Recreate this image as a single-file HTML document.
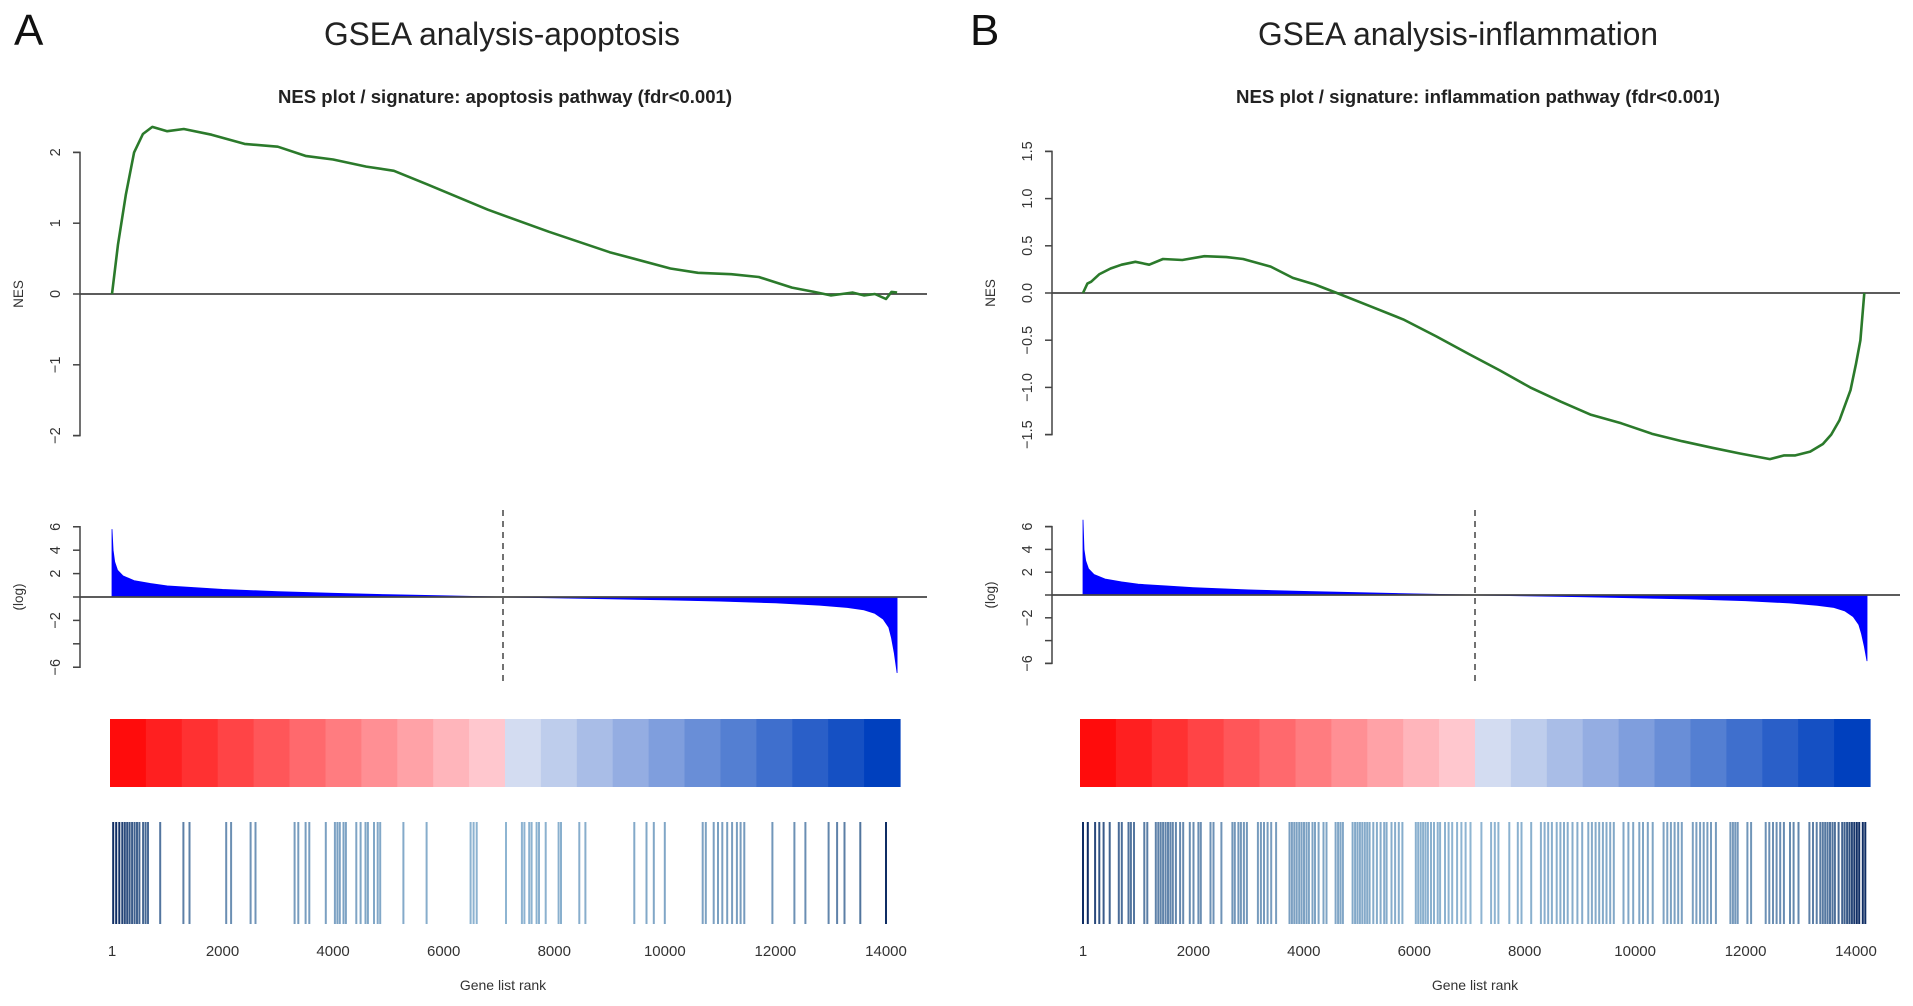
<!DOCTYPE html>
<html><head><meta charset="utf-8"><style>
html,body{margin:0;padding:0;background:#fff;width:1913px;height:1006px;overflow:hidden}
svg{display:block;font-family:"Liberation Sans",Arial,sans-serif}
</style></head><body>
<svg id="fig" width="1913" height="1006" viewBox="0 0 1913 1006" xmlns="http://www.w3.org/2000/svg">
<text x="14" y="45" font-size="44" fill="#111">A</text>
<text x="970" y="45" font-size="44" fill="#111">B</text>
<text x="502" y="45" font-size="32" text-anchor="middle" fill="#222" textLength="356" lengthAdjust="spacingAndGlyphs">GSEA analysis-apoptosis</text>
<text x="1458" y="45" font-size="32" text-anchor="middle" fill="#222" textLength="400" lengthAdjust="spacingAndGlyphs">GSEA analysis-inflammation</text>
<text x="505" y="103" font-size="18" font-weight="bold" text-anchor="middle" fill="#222" textLength="454" lengthAdjust="spacingAndGlyphs">NES plot / signature: apoptosis pathway (fdr&lt;0.001)</text>
<text x="1478" y="103" font-size="18" font-weight="bold" text-anchor="middle" fill="#222" textLength="484" lengthAdjust="spacingAndGlyphs">NES plot / signature: inflammation pathway (fdr&lt;0.001)</text>
</svg>
<script>
// ---------- data ----------
const xTickRanks = [1, 2000, 4000, 6000, 8000, 10000, 12000, 14000];
const xTickLabels = ["1", "2000", "4000", "6000", "8000", "10000", "12000", "14000"];
const nesTicksA = [2, 1, 0, -1, -2];
const nesTickLabelsA = ["2", "1", "0", "\u22121", "\u22122"];
const nesTicksB = [1.5, 1.0, 0.5, 0.0, -0.5, -1.0, -1.5];
const nesTickLabelsB = ["1.5", "1.0", "0.5", "0.0", "\u22120.5", "\u22121.0", "\u22121.5"];
const logTicks = [6, 4, 2, 0, -2, -4, -6];
const logTickLabels = ["6", "4", "2", "", "\u22122", "", "\u22126"];

const nesRanksA = [1, 110, 250, 400, 560, 730, 1000, 1300, 1800, 2400, 3000, 3500, 4000, 4600, 5100, 5700, 6800, 7900, 9000, 10100, 10600, 11200, 11700, 12300, 12700, 13000, 13200, 13400, 13600, 13800, 14000, 14100, 14200];
const nesValuesA = [0, 0.7, 1.4, 2.0, 2.26, 2.36, 2.3, 2.33, 2.25, 2.12, 2.08, 1.95, 1.9, 1.8, 1.74, 1.55, 1.19, 0.88, 0.59, 0.36, 0.3, 0.28, 0.24, 0.09, 0.03, -0.02, 0.0, 0.02, -0.02, 0.0, -0.07, 0.03, 0.02];
const nesRanksB = [1, 80, 150, 300, 500, 700, 950, 1200, 1450, 1800, 2200, 2600, 2900, 3400, 3800, 4200, 4600, 5200, 5800, 6400, 7000, 7550, 8100, 8650, 9200, 9750, 10300, 10850, 11400, 11900, 12440, 12700, 12900, 13170, 13400, 13550, 13700, 13900, 14000, 14080, 14150];
const nesValuesB = [0, 0.1, 0.12, 0.2, 0.26, 0.3, 0.33, 0.3, 0.36, 0.35, 0.39, 0.38, 0.36, 0.28, 0.16, 0.09, 0, -0.14, -0.28, -0.46, -0.65, -0.82, -1.0, -1.15, -1.29, -1.38, -1.49, -1.57, -1.64, -1.7, -1.76, -1.72, -1.72, -1.68, -1.6, -1.5, -1.35, -1.03, -0.75, -0.5, 0];

const metricRanks = [1, 20, 50, 100, 200, 400, 700, 1000, 1500, 2000, 3000, 4000, 5000, 6000, 7050, 8000, 9000, 10000, 11000, 12000, 12800, 13300, 13600, 13800, 13950, 14050, 14100, 14150, 14200];
const metricA = [5.8, 4.0, 3.0, 2.3, 1.8, 1.4, 1.15, 0.95, 0.8, 0.65, 0.45, 0.32, 0.2, 0.1, 0, -0.08, -0.15, -0.25, -0.35, -0.5, -0.7, -0.9, -1.1, -1.4, -1.9, -2.6, -3.5, -4.8, -6.5];
const metricB = [6.6, 4.0, 3.0, 2.3, 1.8, 1.4, 1.15, 0.95, 0.8, 0.65, 0.45, 0.32, 0.2, 0.1, 0, -0.08, -0.15, -0.25, -0.35, -0.5, -0.7, -0.9, -1.1, -1.4, -1.9, -2.6, -3.4, -4.5, -5.8];

const hitsA = [22,77,133,188,232,276,320,365,409,453,497,564,608,652,873,1293,1403,2066,2155,2508,2597,3304,3370,3503,3569,3868,4033,4078,4122,4188,4232,4420,4497,4586,4630,4740,4807,4851,5271,5691,6486,6542,6597,7127,7415,7459,7547,7591,7680,7724,7846,8078,8122,8453,8564,9448,9669,9801,10000,10685,10741,10884,10962,11039,11127,11216,11304,11370,11437,11945,12343,12542,12962,13116,13249,13536,14000];
const hitsB = [1,88,220,297,374,484,649,704,825,869,924,1111,1166,1320,1364,1408,1452,1496,1540,1584,1628,1683,1760,1815,1936,2002,2090,2134,2310,2365,2508,2706,2750,2816,2860,2915,2970,3168,3223,3278,3344,3410,3498,3740,3784,3828,3872,3916,3960,4004,4048,4092,4158,4202,4268,4356,4411,4576,4620,4664,4708,4884,4928,4972,5016,5060,5104,5148,5192,5258,5324,5390,5456,5500,5588,5654,5720,5786,6028,6072,6116,6160,6204,6248,6303,6358,6424,6468,6556,6622,6688,6776,6853,6930,7018,7216,7392,7458,7524,7722,7876,7942,8118,8294,8360,8426,8492,8580,8646,8712,8778,8866,8954,9042,9152,9218,9284,9350,9416,9482,9548,9614,9790,9878,9966,10076,10142,10230,10318,10516,10582,10648,10714,10780,10846,11044,11110,11176,11242,11308,11374,11462,11726,11770,11814,11858,12034,12100,12364,12430,12496,12562,12628,12694,12804,12870,12958,13156,13222,13288,13354,13398,13442,13486,13530,13574,13618,13684,13750,13794,13838,13882,13926,13970,14014,14058,14124,14168];

const colorBarSteps = [-11,-10,-9,-8,-7,-6,-5,-4,-3,-2,-1,1,2,3,4,5,6,7,8,9,10,11];

// ---------- drawing ----------
const NS = "http://www.w3.org/2000/svg";
const svg = document.getElementById("fig");
function mk(tag, attrs, parent) {
  const e = document.createElementNS(NS, tag);
  for (const k in attrs) e.setAttribute(k, attrs[k]);
  (parent || svg).appendChild(e);
  return e;
}
function interp(rs, vs, r) {
  if (r <= rs[0]) return vs[0];
  for (let i = 1; i < rs.length; i++) {
    if (r <= rs[i]) { const t = (r - rs[i-1]) / (rs[i] - rs[i-1]); return vs[i-1] + t * (vs[i] - vs[i-1]); }
  }
  return vs[vs.length - 1];
}

function panel(cfg) {
  const g = mk("g", {});
  
  
  const x = r => cfg.x0 + (r - 1) * cfg.xs;
  const yN = v => cfg.nesZero - v * cfg.nesUnit;
  const yL = v => cfg.logZero - v * cfg.logUnit;

  const ax = mk("path", {d: `M${cfg.axX - 7},${yN(cfg.nesTicks[0])}H${cfg.axX}V${yN(cfg.nesTicks[cfg.nesTicks.length-1])}H${cfg.axX - 7}`, fill: "none", stroke: "#444", "stroke-width": 1.5}, g);
  
  
  cfg.nesTicks.forEach((v, i) => {
    const tk = mk("line", {x1: cfg.axX - 7, x2: cfg.axX, y1: yN(v), y2: yN(v), stroke: "#444", "stroke-width": 1.5}, g);
    
    
    const t = mk("text", {x: 0, y: 0, transform: `translate(${cfg.axX - 20},${yN(v)}) rotate(-90)`, "font-size": 14.5, "text-anchor": "middle", fill: "#333"}, g);
    t.textContent = cfg.nesLabels[i];
    
    
  });
  const nl = mk("text", {transform: `translate(${cfg.axX - 57},${cfg.nesZero}) rotate(-90)`, "font-size": 13.5, "text-anchor": "middle", fill: "#333"}, g);
  nl.textContent = "NES";
  
  
  const z = mk("line", {x1: cfg.axX, x2: cfg.axEnd, y1: cfg.nesZero, y2: cfg.nesZero, stroke: "#444", "stroke-width": 1.8}, g);
  
  
  let d = "";
  cfg.nesRanks.forEach((r, i) => { d += (i ? "L" : "M") + x(r).toFixed(1) + "," + yN(cfg.nesVals[i]).toFixed(1); });
  const c = mk("path", {d, fill: "none", stroke: "#2b7a2b", "stroke-width": 2.6, "stroke-linejoin": "round"}, g);
  
  

  const la = mk("path", {d: `M${cfg.axX - 7},${yL(6)}H${cfg.axX}V${yL(-6)}H${cfg.axX - 7}`, fill: "none", stroke: "#444", "stroke-width": 1.5}, g);
  
  
  logTicks.forEach((v, i) => {
    const tk = mk("line", {x1: cfg.axX - 7, x2: cfg.axX, y1: yL(v), y2: yL(v), stroke: "#444", "stroke-width": 1.5}, g);
    
    
    const t = mk("text", {transform: `translate(${cfg.axX - 20},${yL(v)}) rotate(-90)`, "font-size": 14.5, "text-anchor": "middle", fill: "#333"}, g);
    t.textContent = logTickLabels[i];
    
    
  });
  const ll = mk("text", {transform: `translate(${cfg.axX - 57},${cfg.logZero}) rotate(-90)`, "font-size": 13.5, "text-anchor": "middle", fill: "#333"}, g);
  ll.textContent = "(log)";
  
  
  let p = `M${x(metricRanks[0])},${cfg.logZero}`;
  metricRanks.forEach((r, i) => { p += "L" + x(r).toFixed(1) + "," + yL(cfg.metric[i]).toFixed(1); });
  p += `L${x(metricRanks[metricRanks.length-1])},${cfg.logZero}Z`;
  const area = mk("path", {d: p, fill: "#0000ff", stroke: "#0000ff", "stroke-width": 0.8}, g);
  
  
  const lz = mk("line", {x1: cfg.axX, x2: cfg.axEnd, y1: cfg.logZero, y2: cfg.logZero, stroke: "#444", "stroke-width": 1.8}, g);
  
  
  const dl = mk("line", {x1: cfg.dashX, x2: cfg.dashX, y1: 510, y2: 684, stroke: "#444", "stroke-width": 1.5, "stroke-dasharray": "6,5"}, g);
  
  

  const bw = (cfg.barX1 - cfg.barX0) / colorBarSteps.length;
  colorBarSteps.forEach((s, i) => {
    const t = Math.abs(s) / 11;
    let col;
    if (s < 0) { const k = Math.round(255 * (0.05 + 0.9 * (1 - t))); col = `rgb(255,${Math.round(k*0.9)},${Math.round(k*0.93)})`; }
    else { col = `rgb(${Math.round(232 - 232 * t)},${Math.round(236 - 172 * t)},${Math.round(246 - 56 * t)})`; }
    const r = mk("rect", {x: (cfg.barX0 + i * bw).toFixed(1), y: 719, width: (bw + 0.6).toFixed(1), height: 68, fill: col}, g);
    
    
  });

  cfg.hits.forEach(r => {
    const m = Math.min(1, Math.abs(interp(metricRanks, cfg.metric, r)) / 2.2);
    const k = 0.15 + 0.85 * m;
    const col = `rgb(${Math.round(165 - 150 * k)},${Math.round(205 - 160 * k)},${Math.round(230 - 130 * k)})`;
    const l = mk("line", {x1: x(r).toFixed(1), x2: x(r).toFixed(1), y1: 822, y2: 924, stroke: col, "stroke-width": 2}, g);
    
    
  });

  xTickRanks.forEach((r, i) => {
    const t = mk("text", {x: x(r), y: 956, "font-size": 15, "text-anchor": "middle", fill: "#333"}, g);
    t.textContent = xTickLabels[i];
    
    
  });
  const xt = mk("text", {x: cfg.dashX, y: 990, "font-size": 14, "text-anchor": "middle", fill: "#333"}, g);
  xt.textContent = "Gene list rank";
  
  
}

panel({name: "panel-apoptosis", x0: 112, xs: 774 / 13999, axX: 80, axEnd: 927, nesZero: 294, nesUnit: 70.8, logZero: 597, logUnit: 11.7,
  nesTicks: nesTicksA, nesLabels: nesTickLabelsA, nesRanks: nesRanksA, nesVals: nesValuesA, metric: metricA, hits: hitsA,
  dashX: 503, barX0: 110, barX1: 900});
panel({name: "panel-inflammation", x0: 1083, xs: 773 / 13999, axX: 1052, axEnd: 1900, nesZero: 293, nesUnit: 94.4, logZero: 595, logUnit: 11.4,
  nesTicks: nesTicksB, nesLabels: nesTickLabelsB, nesRanks: nesRanksB, nesVals: nesValuesB, metric: metricB, hits: hitsB,
  dashX: 1475, barX0: 1080, barX1: 1870});
</script>
</body></html>
